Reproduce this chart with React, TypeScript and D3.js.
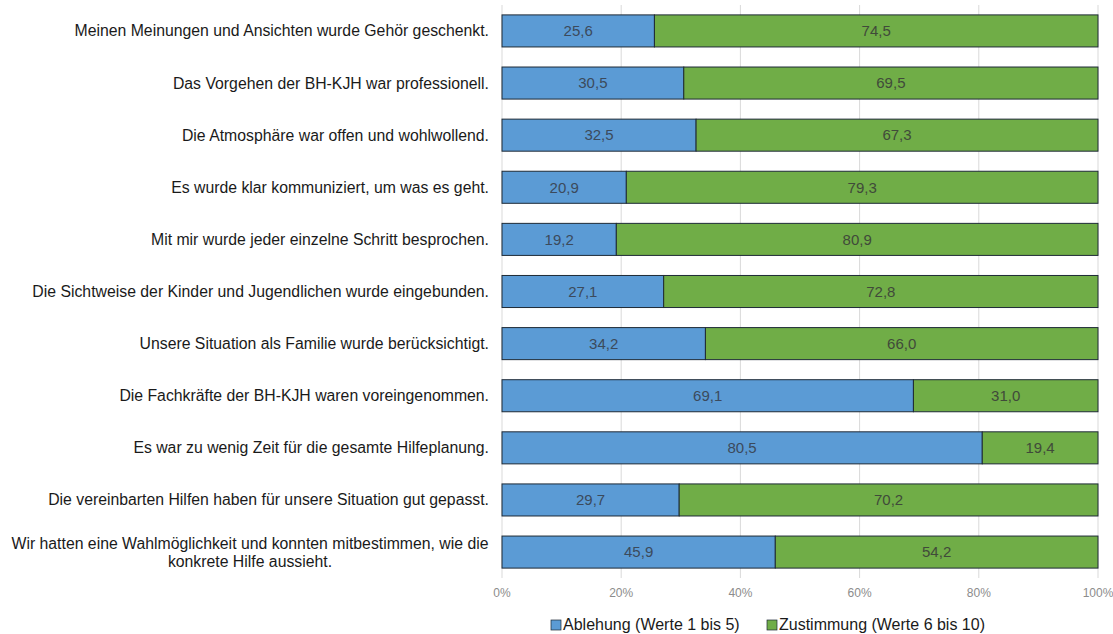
import { useEffect, useRef } from 'react'
import * as d3 from 'd3'

const questions = [
  ['Meinen Meinungen und Ansichten wurde Gehör geschenkt.'],
  ['Das Vorgehen der BH-KJH war professionell.'],
  ['Die Atmosphäre war offen und wohlwollend.'],
  ['Es wurde klar kommuniziert, um was es geht.'],
  ['Mit mir wurde jeder einzelne Schritt besprochen.'],
  ['Die Sichtweise der Kinder und Jugendlichen wurde eingebunden.'],
  ['Unsere Situation als Familie wurde berücksichtigt.'],
  ['Die Fachkräfte der BH-KJH waren voreingenommen.'],
  ['Es war zu wenig Zeit für die gesamte Hilfeplanung.'],
  ['Die vereinbarten Hilfen haben für unsere Situation gut gepasst.'],
  ['Wir hatten eine Wahlmöglichkeit und konnten mitbestimmen, wie die', 'konkrete Hilfe aussieht.'],
]

const ablehnung = [25.6, 30.5, 32.5, 20.9, 19.2, 27.1, 34.2, 69.1, 80.5, 29.7, 45.9]
const zustimmung = [74.5, 69.5, 67.3, 79.3, 80.9, 72.8, 66.0, 31.0, 19.4, 70.2, 54.2]

const seriesNames = ['Ablehung (Werte 1 bis 5)', 'Zustimmung (Werte 6 bis 10)']
const colors = ['#5b9bd5', '#70ad47']
const ticks = [0, 0.2, 0.4, 0.6, 0.8, 1]

export default function App() {
  const svgRef = useRef<SVGSVGElement>(null)

  useEffect(() => {
    if (!svgRef.current) return
    const svg = d3.select(svgRef.current)
    svg.selectAll('*').remove()

    const width = 1113
    const height = 634
    const left = 502
    const right = 1098
    const top = 5
    const bottom = 578
    const font = 'Liberation Sans, Arial, sans-serif'

    svg.attr('width', width).attr('height', height)

    const x = d3.scaleLinear().domain([0, 1]).range([left, right])
    const y = d3.scaleBand<number>()
      .domain(d3.range(questions.length))
      .range([top, bottom])
      .paddingInner(0.385)
      .paddingOuter(0.19)

    // gridlines
    svg.append('g')
      .selectAll('line')
      .data(ticks)
      .enter().append('line')
      .attr('x1', d => x(d))
      .attr('x2', d => x(d))
      .attr('y1', top)
      .attr('y2', bottom)
      .attr('stroke', '#d9d9d9')
      .attr('stroke-width', 1)

    // tick labels
    svg.append('g')
      .selectAll('text')
      .data(ticks)
      .enter().append('text')
      .attr('x', d => x(d))
      .attr('y', 597)
      .attr('text-anchor', 'middle')
      .style('font-family', font)
      .style('font-size', '12px')
      .style('fill', '#8c8c8c')
      .text(d => d3.format('.0%')(d))

    const rows = questions.map((q, i) => {
      const total = ablehnung[i] + zustimmung[i]
      return { i, q, a: ablehnung[i], z: zustimmung[i], total }
    })

    const bars = svg.append('g')
    rows.forEach(r => {
      const segs = [
        { v: r.a, x0: 0, x1: r.a / r.total, c: colors[0], t: '#3b4a5c' },
        { v: r.z, x0: r.a / r.total, x1: 1, c: colors[1], t: '#404a3a' },
      ]
      segs.forEach(s => {
        bars.append('rect')
          .attr('x', x(s.x0))
          .attr('y', y(r.i)!)
          .attr('width', x(s.x1) - x(s.x0))
          .attr('height', y.bandwidth())
          .attr('fill', s.c)
          .attr('stroke', '#1e2a36')
          .attr('stroke-width', 1)
        bars.append('text')
          .attr('x', (x(s.x0) + x(s.x1)) / 2)
          .attr('y', y(r.i)! + y.bandwidth() / 2)
          .attr('dy', '0.35em')
          .attr('text-anchor', 'middle')
          .style('font-family', font)
          .style('font-size', '15px')
          .style('fill', s.t)
          .text(d3.format('.1f')(s.v).replace('.', ','))
      })

      const lines = r.q
      const lh = 18
      const cy = y(r.i)! + y.bandwidth() / 2
      lines.forEach((ln, k) => {
        svg.append('text')
          .attr('x', lines.length > 1 ? 250 : 489)
          .attr('y', cy + (k - (lines.length - 1) / 2) * lh)
          .attr('dy', '0.35em')
          .attr('text-anchor', lines.length > 1 ? 'middle' : 'end')
          .style('font-family', font)
          .style('font-size', '15.8px')
          .style('fill', '#1a1a1a')
          .text(ln)
      })
    })

    // legend
    const legend = svg.append('g')
    const legX = [551, 767]
    seriesNames.forEach((n, i) => {
      legend.append('rect')
        .attr('x', legX[i])
        .attr('y', 620)
        .attr('width', 10)
        .attr('height', 10)
        .attr('fill', colors[i])
        .attr('stroke', '#1e2a36')
        .attr('stroke-width', 0.7)
      legend.append('text')
        .attr('x', legX[i] + 12)
        .attr('y', 630)
        .style('font-family', font)
        .style('font-size', '16px')
        .style('fill', '#1a1a1a')
        .text(n)
    })
  }, [])

  return <svg ref={svgRef} style={{ position: 'absolute', left: 0, top: 0 }}></svg>
}
